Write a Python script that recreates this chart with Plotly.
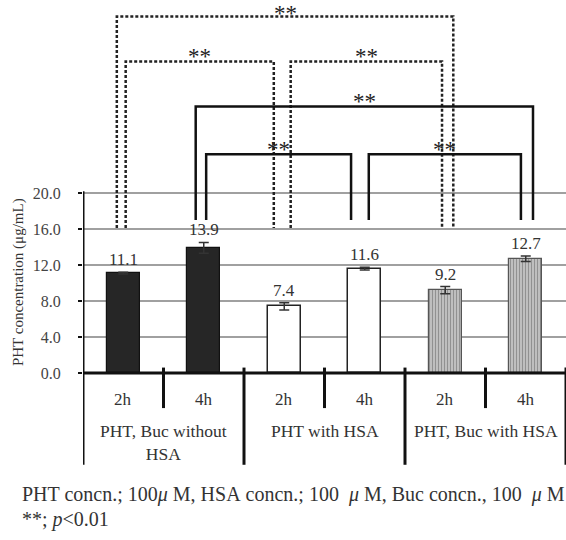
import plotly.graph_objects as go

# ---------------- data ----------------
groups = ["PHT, Buc without<br>HSA", "PHT with HSA", "PHT, Buc with HSA"]
times = ["2h", "4h", "2h", "4h", "2h", "4h"]
values = [11.1, 13.9, 7.4, 11.6, 9.2, 12.7]
errors = [0.1, 0.6, 0.4, 0.15, 0.4, 0.3]
value_labels = ["11.1", "13.9", "7.4", "11.6", "9.2", "12.7"]
y_ticks = [0, 4, 8, 12, 16, 20]
y_tick_labels = ["0.0", "4.0", "8.0", "12.0", "16.0", "20.0"]
sig_label = "**"

# significance brackets: (bar a, bar b, style)
comparisons = [
    (0, 4, "dot"),
    (0, 2, "dot"),
    (2, 4, "dot"),
    (1, 5, "solid"),
    (1, 3, "solid"),
    (3, 5, "solid"),
]
# layout of the brackets (height, leg bottom, leg offsets in category units, star shift px)
bracket_layout = [
    (39.6, 16.1, -0.08, 0.10, 3),
    (34.6, 16.1, 0.03, -0.13, 5),
    (34.6, 16.1, 0.08, -0.04, 5),
    (29.6, 17.0, -0.10, 0.09, 5),
    (24.3, 17.0, 0.03, -0.17, 5),
    (24.3, 17.0, 0.05, -0.06, 5),
]

SERIF = "Liberation Serif"
x = list(range(len(values)))

fig = go.Figure()

# bars: black, white, striped grey
styles = [
    dict(color="#262626", line=dict(color="#111", width=1.2)),
    dict(color="#262626", line=dict(color="#111", width=1.2)),
    dict(color="white", line=dict(color="#222", width=1.5)),
    dict(color="white", line=dict(color="#222", width=1.5)),
    dict(color="#c4c4c4", line=dict(color="#555", width=1.2),
         pattern=dict(shape="|", fgcolor="#5a5a5a", bgcolor="#c8c8c8", size=3, solidity=0.45)),
    dict(color="#c4c4c4", line=dict(color="#555", width=1.2),
         pattern=dict(shape="|", fgcolor="#5a5a5a", bgcolor="#c8c8c8", size=3, solidity=0.45)),
]
for i in x:
    fig.add_trace(go.Bar(
        x=[i], y=[values[i]], width=0.41, marker=styles[i],
        error_y=dict(type="data", array=[errors[i]], color="#333", thickness=1.5, width=5),
        showlegend=False, hoverinfo="skip"))

# value labels
for i in x:
    fig.add_annotation(x=i, y=values[i] + errors[i], text=value_labels[i], showarrow=False,
                       yanchor="bottom", yshift=1, font=dict(family=SERIF, size=17, color="#333"))

shapes = []
# axis lines
shapes.append(dict(type="line", x0=-0.5, x1=5.6, y0=0, y1=0, line=dict(color="#111", width=3)))
shapes.append(dict(type="line", x0=-0.5, x1=-0.5, y0=-10.2, y1=20.2, line=dict(color="#111", width=3)))
# table under axis
for gx in [1.5, 3.5, 5.5]:
    shapes.append(dict(type="line", x0=gx, x1=gx, y0=0.6, y1=-10.2, line=dict(color="#111", width=3)))
for sx in [0.5, 2.5, 4.5]:
    shapes.append(dict(type="line", x0=sx, x1=sx, y0=0.6, y1=-3.9, line=dict(color="#111", width=3)))

# significance brackets
for (a, b, st), (h, leg, oa, ob, ys) in zip(comparisons, bracket_layout):
    xa, xb = a + oa, b + ob
    ln = dict(color="#222", width=2.5, dash="3px,2px") if st == "dot" else dict(color="#111", width=2.5)
    shapes.append(dict(type="path", path=f"M {xa} {leg} L {xa} {h} L {xb} {h} L {xb} {leg}",
                       line=ln))
    fig.add_annotation(x=(xa + xb) / 2, y=h, text=sig_label, showarrow=False, yanchor="middle",
                       yshift=ys, font=dict(family=SERIF, size=23, color="#222"))

# category labels
for i in x:
    fig.add_annotation(x=i, y=-3.0, text=times[i], showarrow=False,
                       font=dict(family=SERIF, size=17, color="#333"))
for g, name in enumerate(groups):
    fig.add_annotation(x=2 * g + 0.5, y=-6.6, text=name, showarrow=False, yanchor="top",
                       yshift=13, font=dict(family=SERIF, size=17.5, color="#333"))

# y-axis title
fig.add_annotation(xref="paper", x=-0.1346, y=10.1, xanchor="center", yanchor="middle",
                   text="PHT concentration (μg/mL)",
                   textangle=-90, showarrow=False, font=dict(family=SERIF, size=15, color="#333"))

# footnote
NB = "\u00a0"
fig.add_annotation(xref="paper", yref="paper", x=-0.1304, y=-0.0536, xanchor="left", yanchor="middle",
                   text=f"PHT concn.; 100<i>μ</i>{NB}M, HSA{NB}concn.; 100{NB}{NB}<i>μ</i>{NB}M, Buc concn., 100{NB}{NB}<i>μ</i>{NB}M",
                   showarrow=False, font=dict(family=SERIF, size=20, color="#333"))
fig.add_annotation(xref="paper", yref="paper", x=-0.1304, y=-0.107, xanchor="left", yanchor="middle",
                   text="**; <i>p</i>&lt;0.01", showarrow=False,
                   font=dict(family=SERIF, size=20, color="#333"))

fig.update_layout(
    width=566, height=540, margin=dict(l=83, r=0, t=4, b=70),
    paper_bgcolor="white", plot_bgcolor="white", shapes=shapes, bargap=0,
    xaxis=dict(range=[-0.5, 5.5], showticklabels=False, showgrid=False, zeroline=False,
               showline=False, ticks=""),
    yaxis=dict(range=[-10.78, 41.0], tickvals=y_ticks, ticktext=y_tick_labels,
               showgrid=True, gridcolor="#a0a0a0", gridwidth=1.5, zeroline=False, showline=False,
               ticks="outside", ticklen=4, tickwidth=2, tickcolor="#111", ticklabelstandoff=14,
               tickfont=dict(family=SERIF, size=16, color="#444")),
)

fig.write_html("out.html", config={"displayModeBar": False},
               post_script="document.body.style.margin='0';document.body.style.overflow='hidden';")
